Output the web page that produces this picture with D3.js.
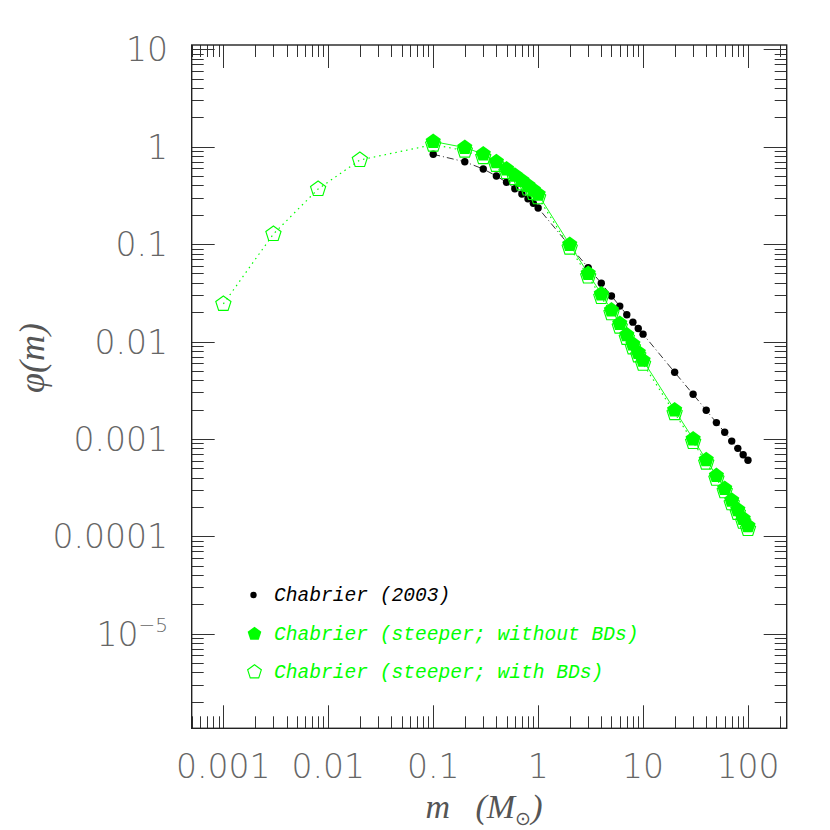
<!DOCTYPE html>
<html>
<head>
<meta charset="utf-8">
<script src="https://cdn.jsdelivr.net/npm/d3@7"></script>
<style>
html,body{margin:0;padding:0;background:#fff;}
svg{display:block;}
</style>
</head>
<body>
<svg id="chart" width="830" height="830"></svg>
<script>
// ---- data ----
const massChabrier = [0.1,0.2,0.3,0.4,0.5,0.6,0.7,0.8,0.9,1,2,3,4,5,6,7,8,9,10,20,30,40,50,60,70,80,90,100];
const phiChabrier  = [0.835,0.70,0.59,0.50,0.431,0.37,0.327,0.292,0.262,0.235,0.096,0.0573,0.0396,0.0293,0.0231,0.0188,0.0158,0.0136,0.0119,0.00483,0.00287,0.00197,0.00147,0.00117,0.00095,0.0008,0.000688,0.000603];

const massSteep = [0.1,0.2,0.3,0.4,0.5,0.6,0.7,0.8,0.9,1,2,3,4,5,6,7,8,9,10,20,30,40,50,60,70,80,90,100];
const phiSteepNoBD = [1.13,0.98,0.84,0.70,0.59,0.51,0.45,0.40,0.36,0.325,0.099,0.050,0.0308,0.021,0.0153,0.0117,0.0094,0.0077,0.0064,0.00198,0.00100,0.00061,0.00042,0.00031,0.000235,0.000187,0.000152,0.000128];

const massSteepBD = [0.001,0.003,0.008,0.02,0.1,0.2,0.3,0.4,0.5,0.6,0.7,0.8,0.9,1,2,3,4,5,6,7,8,9,10,20,30,40,50,60,70,80,90,100];
const phiSteepBD  = [0.0243,0.127,0.368,0.73,1.05,0.91,0.78,0.65,0.55,0.475,0.42,0.372,0.335,0.302,0.092,0.0465,0.0286,0.0195,0.0142,0.0109,0.0087,0.0072,0.0059,0.00184,0.00093,0.00057,0.00039,0.00029,0.000218,0.000174,0.000141,0.000119];

const xTickValues = [0.001,0.01,0.1,1,10,100];
const xTickLabels = ["0.001","0.01","0.1","1","10","100"];
const yTickValues = [10,1,0.1,0.01,0.001,0.0001,0.00001];
const yTickLabels = ["10","1","0.1","0.01","0.001","0.0001","10^-5"];

const legendLabels = ["Chabrier (2003)","Chabrier (steeper; without BDs)","Chabrier (steeper; with BDs)"];

// ---- layout ----
const L = 191.7, R = 786.7, T = 45, B = 728.3;
const GREEN = "#00ff00";

const svg = d3.select("#chart");
const x = d3.scaleLog().domain([Math.pow(10,-3.3017), Math.pow(10,2.369)]).range([L,R]);
const y = d3.scaleLog().domain([Math.pow(10,-5.971), Math.pow(10,1.044)]).range([B,T]);

// custom pentagon symbol
const pentagon = {
  draw(ctx, size){
    const r = Math.sqrt(size);
    for(let k=0;k<5;k++){
      const a = -Math.PI/2 + k*2*Math.PI/5;
      const px = r*Math.cos(a), py = r*Math.sin(a);
      if(k===0) ctx.moveTo(px,py); else ctx.lineTo(px,py);
    }
    ctx.closePath();
  }
};

// ---- ticks (inside, all four sides) ----
const tg = svg.append("g").attr("stroke","#333").attr("stroke-width",1);
const xd = x.domain(), yd = y.domain();
for(let e=-7;e<=3;e++){
  for(let k=1;k<=9;k++){
    const v = k*Math.pow(10,e);
    const len = k===1 ? 23 : 12;
    if(v>=xd[0] && v<=xd[1]){
      const px = Math.round(x(v))+0.5;
      tg.append("line").attr("x1",px).attr("x2",px).attr("y1",B).attr("y2",B-len);
      tg.append("line").attr("x1",px).attr("x2",px).attr("y1",T).attr("y2",T+len);
    }
    if(v>=yd[0] && v<=yd[1]){
      const py = Math.round(y(v))+0.5;
      tg.append("line").attr("x1",L).attr("x2",L+len).attr("y1",py).attr("y2",py);
      tg.append("line").attr("x1",R).attr("x2",R-len).attr("y1",py).attr("y2",py);
    }
  }
}
// frame
svg.append("rect").attr("x",L).attr("y",T).attr("width",R-L).attr("height",B-T)
  .attr("fill","none").attr("stroke","#222").attr("stroke-width",1.4);

// ---- tick labels ----
const labFont = "'DejaVu Sans', sans-serif";
const xl = svg.append("g").attr("font-family",labFont).attr("font-size",33)
  .attr("font-weight",200).attr("fill","#666").attr("text-anchor","middle");
xTickValues.forEach((v,i)=>{
  xl.append("text").attr("x",x(v)).attr("y",778).text(xTickLabels[i]);
});
const yl = svg.append("g").attr("font-family",labFont).attr("font-size",33)
  .attr("font-weight",200).attr("fill","#666").attr("text-anchor","end");
yTickValues.forEach((v,i)=>{
  const t = yl.append("text").attr("x",168).attr("y",y(v)+12);
  const lab = yTickLabels[i];
  if(lab.indexOf("^")>=0){
    const parts = lab.split("^");
    t.append("tspan").text(parts[0]);
    t.append("tspan").attr("font-size",20).attr("dy",-14).text(parts[1].replace("-","\u2212"));
  } else t.text(lab);
});

// ---- axis titles ----
const xt = svg.append("text").attr("x",484).attr("y",818)
  .attr("font-family","'Liberation Serif', serif").attr("font-style","italic")
  .attr("font-size",34).attr("fill","#555").attr("text-anchor","middle");
xt.append("tspan").text("m\u00A0\u00A0\u00A0(M");
xt.append("tspan").attr("font-size",19).attr("font-style","normal").attr("dy",7).text("\u2299");
xt.append("tspan").attr("dy",-7).text(")");

svg.append("text").attr("transform","translate(44,358) rotate(-90)")
  .attr("font-family","'Liberation Serif', serif").attr("font-style","italic")
  .attr("font-size",36).attr("fill","#555").attr("text-anchor","middle")
  .text("\u03C6(m)");

// ---- series ----
const line = d3.line().x(d=>x(d[0])).y(d=>y(d[1]));
const plot = svg.append("g");

const dBlack = massChabrier.map((m,i)=>[m,phiChabrier[i]]);
const dFill  = massSteep.map((m,i)=>[m,phiSteepNoBD[i]]);
const dOpen  = massSteepBD.map((m,i)=>[m,phiSteepBD[i]]);

plot.append("path").datum(dBlack).attr("d",line).attr("fill","none")
  .attr("stroke","#000").attr("stroke-width",0.8).attr("stroke-dasharray","7,3,1,3");
plot.append("path").datum(dFill).attr("d",line).attr("fill","none")
  .attr("stroke",GREEN).attr("stroke-width",0.9);
plot.append("path").datum(dOpen).attr("d",line).attr("fill","none")
  .attr("stroke",GREEN).attr("stroke-width",1.2).attr("stroke-dasharray","1.5,4");

plot.selectAll("circle.blk").data(dBlack).enter().append("circle")
  .attr("cx",d=>x(d[0])).attr("cy",d=>y(d[1])).attr("r",3.7).attr("fill","#000");

const sym = d3.symbol().type(pentagon).size(64);
plot.selectAll("path.fill").data(dFill).enter().append("path")
  .attr("transform",d=>`translate(${x(d[0])},${y(d[1])})`)
  .attr("d",sym).attr("fill",GREEN);
plot.selectAll("path.open").data(dOpen).enter().append("path")
  .attr("transform",d=>`translate(${x(d[0])},${y(d[1])})`)
  .attr("d",sym).attr("fill","none").attr("stroke",GREEN).attr("stroke-width",1.1);

// ---- legend ----
const lg = svg.append("g").attr("font-family","'Liberation Mono', monospace")
  .attr("font-style","italic").attr("font-size",19.6);
const rows = [601,640,678];
lg.append("circle").attr("cx",253.5).attr("cy",595).attr("r",3.2).attr("fill","#000");
lg.append("path").attr("transform","translate(254.5,634)").attr("d",d3.symbol().type(pentagon).size(52)).attr("fill",GREEN);
lg.append("path").attr("transform","translate(254.5,672)").attr("d",d3.symbol().type(pentagon).size(52))
  .attr("fill","none").attr("stroke",GREEN).attr("stroke-width",1.1);
legendLabels.forEach((s,i)=>{
  lg.append("text").attr("x",274).attr("y",rows[i]).attr("fill",i===0?"#000":GREEN).text(s);
});
</script>
</body>
</html>
